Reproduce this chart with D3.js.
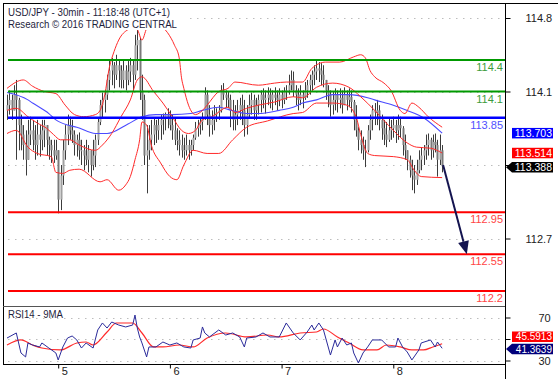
<!DOCTYPE html>
<html><head><meta charset="utf-8">
<script src="https://cdn.jsdelivr.net/npm/d3@7"></script>
<style>body{margin:0;background:#fff}svg{display:block;font-family:"Liberation Sans",Arial,sans-serif}</style>
</head><body><svg id="c" width="558" height="379"></svg>
<script>
// ---------- DATA ----------
const titleLines = ["USD/JPY - 30min - 11:18:48 (UTC+1)", "Research \u00a9 2016 TRADING CENTRAL"];
const dayLabels = ["5","6","7","8"];
const dayStartBar = [22,70,118,166];

const barOpen = [113.92,113.97,114.02,113.92,114.07,114.02,113.78,113.69,113.59,113.45,
113.69,113.73,113.64,113.59,113.69,113.64,113.73,113.78,113.64,113.59,
113.54,113.49,113.54,113.07,113.30,113.54,113.69,113.78,113.73,113.69,
113.59,113.64,113.54,113.54,113.49,113.45,113.54,113.40,113.49,113.64,
113.81,113.97,114.02,114.07,114.21,114.30,114.35,114.26,114.35,114.30,
114.21,114.30,114.21,114.29,114.35,114.26,114.54,114.59,114.11,114.02,
113.49,113.54,113.64,113.69,113.78,113.73,113.78,113.83,113.85,113.88,
113.85,113.78,113.73,113.64,113.64,113.59,113.54,113.54,113.59,113.54,
113.59,113.66,113.75,113.78,113.81,113.85,114.07,113.88,113.78,113.83,
113.88,113.90,113.92,114.11,114.07,114.04,114.02,113.92,113.83,113.88,
113.92,113.97,113.92,113.78,113.88,113.97,114.02,113.92,113.97,114.02,
114.07,114.02,114.04,114.07,114.02,114.07,114.04,114.02,114.07,114.02,
114.10,114.11,114.16,114.21,114.11,114.07,114.02,114.07,114.04,114.11,
114.16,114.21,114.26,114.29,114.32,114.30,114.26,114.21,114.11,114.07,
113.97,114.02,114.07,114.02,114.04,113.97,114.07,114.02,114.05,114.00,
113.83,113.73,113.64,113.59,113.54,113.54,113.73,113.83,113.92,113.90,
113.92,113.83,113.75,113.69,113.64,113.73,113.75,113.78,113.73,113.78,
113.75,113.59,113.54,113.45,113.35,113.30,113.26,113.35,113.45,113.49,
113.54,113.59,113.64,113.54,113.62,113.59,113.45,113.54];
const barHigh = [114.07,114.11,114.07,114.16,114.21,114.04,113.88,113.78,113.73,113.83,
113.86,113.83,113.78,113.83,113.78,113.83,113.83,113.78,113.67,113.64,
113.64,113.64,113.54,113.40,113.64,113.78,113.88,113.86,113.83,113.73,
113.69,113.71,113.64,113.59,113.64,113.59,113.54,113.64,113.69,113.85,
114.02,114.09,114.11,114.26,114.40,114.42,114.38,114.45,114.40,114.35,
114.40,114.35,114.40,114.42,114.40,114.64,114.69,114.61,114.26,114.07,
113.78,113.78,113.83,113.85,113.83,113.85,113.88,113.89,113.90,113.94,
113.92,113.88,113.85,113.75,113.73,113.69,113.66,113.69,113.64,113.64,
113.69,113.81,113.83,113.85,113.90,114.14,114.11,113.97,113.92,113.97,
113.94,113.97,114.16,114.18,114.11,114.10,114.07,114.02,113.97,114.02,
114.04,114.07,114.02,113.97,114.07,114.09,114.07,114.04,114.07,114.11,
114.13,114.11,114.14,114.13,114.11,114.14,114.11,114.13,114.11,114.14,
114.16,114.26,114.30,114.29,114.16,114.13,114.16,114.11,114.19,114.21,
114.26,114.30,114.35,114.40,114.38,114.37,114.35,114.21,114.16,114.11,
114.10,114.13,114.11,114.13,114.11,114.14,114.11,114.13,114.11,114.02,
113.97,113.76,113.73,113.67,113.64,113.78,113.88,113.97,113.99,114.02,
113.97,113.88,113.83,113.81,113.85,113.83,113.86,113.83,113.88,113.86,
113.77,113.69,113.54,113.49,113.45,113.40,113.45,113.54,113.57,113.59,
113.69,113.70,113.66,113.69,113.70,113.64,113.69,113.59];
const barLow = [113.83,113.88,113.83,113.92,113.45,113.54,113.54,113.45,113.30,113.45,
113.59,113.54,113.45,113.49,113.48,113.54,113.57,113.49,113.45,113.42,
113.42,113.45,112.94,112.97,113.21,113.45,113.59,113.64,113.61,113.49,
113.48,113.45,113.40,113.35,113.40,113.33,113.29,113.35,113.38,113.59,
113.78,113.85,113.90,114.02,114.11,114.16,114.13,114.21,114.14,114.13,
114.13,114.11,114.16,114.19,114.11,114.21,114.30,114.02,113.83,113.40,
113.13,113.45,113.54,113.59,113.61,113.64,113.64,113.69,113.73,113.75,
113.73,113.64,113.59,113.54,113.49,113.47,113.45,113.49,113.45,113.49,
113.54,113.64,113.67,113.69,113.73,113.83,113.78,113.67,113.69,113.73,
113.81,113.83,113.90,114.02,113.95,113.94,113.76,113.73,113.73,113.78,
113.83,113.78,113.67,113.69,113.85,113.88,113.83,113.83,113.88,113.90,
113.94,113.89,113.97,113.94,113.92,113.97,113.92,113.96,113.94,113.98,
114.02,114.07,114.11,114.05,113.97,113.92,113.97,113.94,114.02,114.04,
114.07,114.11,114.16,114.21,114.19,114.16,114.14,114.02,113.95,113.86,
113.88,113.92,113.90,113.94,113.89,113.97,113.92,113.95,113.90,113.73,
113.67,113.54,113.51,113.45,113.38,113.52,113.64,113.73,113.78,113.78,
113.73,113.64,113.59,113.57,113.62,113.64,113.66,113.61,113.64,113.66,
113.49,113.45,113.35,113.28,113.16,113.13,113.21,113.32,113.35,113.40,
113.45,113.49,113.45,113.47,113.52,113.29,113.40,113.33];
const barClose = [113.97,114.02,113.92,114.07,114.02,113.78,113.69,113.59,113.45,113.69,
113.73,113.64,113.59,113.69,113.64,113.73,113.78,113.64,113.59,113.54,
113.49,113.54,113.07,113.30,113.54,113.69,113.78,113.73,113.69,113.59,
113.64,113.54,113.54,113.49,113.45,113.54,113.40,113.49,113.64,113.81,
113.97,114.02,114.07,114.21,114.30,114.35,114.26,114.35,114.30,114.21,
114.30,114.21,114.29,114.35,114.26,114.54,114.59,114.11,114.02,113.49,
113.54,113.64,113.69,113.78,113.73,113.78,113.83,113.85,113.88,113.85,
113.78,113.73,113.64,113.64,113.59,113.54,113.54,113.59,113.54,113.59,
113.66,113.75,113.78,113.81,113.85,114.07,113.88,113.78,113.83,113.88,
113.90,113.92,114.11,114.07,114.04,114.02,113.92,113.83,113.88,113.92,
113.97,113.92,113.78,113.88,113.97,114.02,113.92,113.97,114.02,114.07,
114.02,114.04,114.07,114.02,114.07,114.04,114.02,114.07,114.02,114.10,
114.11,114.16,114.21,114.11,114.07,114.02,114.07,114.04,114.11,114.16,
114.21,114.26,114.29,114.32,114.30,114.26,114.21,114.11,114.07,113.97,
114.02,114.07,114.02,114.04,113.97,114.07,114.02,114.05,114.00,113.83,
113.73,113.64,113.59,113.54,113.54,113.73,113.83,113.92,113.90,113.92,
113.83,113.75,113.69,113.64,113.73,113.75,113.78,113.73,113.78,113.75,
113.59,113.54,113.45,113.35,113.30,113.26,113.35,113.45,113.49,113.54,
113.59,113.64,113.54,113.62,113.59,113.45,113.54,113.388];

const bbUpperBar = [0,7,11,16,21,25,29,33,38,40,42,44,46,48,52,54,56,58,60,63,67,69,72,74,75,76,78,81,84,86,91,95,98,108,115,120,127,131,137,143,149,152,154,156,158,162,165,169,171,174,177,181,187];
const bbUpper = [114.13,114.21,114.15,114.10,114.08,113.97,113.88,113.86,113.88,113.92,114.07,114.33,114.48,114.59,114.69,114.71,114.69,114.59,114.70,114.76,114.71,114.66,114.54,114.42,114.23,114.13,113.97,113.88,113.92,113.97,114.10,114.13,114.19,114.16,114.18,114.19,114.19,114.32,114.38,114.38,114.43,114.45,114.42,114.30,114.24,114.18,114.11,113.92,113.89,113.99,113.95,113.86,113.76];
const bbMidBar = [0,4,9,13,17,20,23,27,31,38,41,45,49,53,56,58,63,67,71,75,78,81,84,88,95,98,103,108,115,123,127,133,140,147,152,158,166,172,176,182,187];
const bbMid = [113.92,113.94,113.86,113.80,113.75,113.69,113.64,113.64,113.59,113.54,113.59,113.70,113.86,114.02,114.21,114.24,114.10,113.99,113.86,113.73,113.70,113.73,113.83,113.86,113.95,113.90,113.94,113.97,114.00,114.05,114.04,114.14,114.18,114.14,114.05,113.92,113.73,113.61,113.57,113.56,113.514];
const bbLowerBar = [0,4,9,13,19,21,24,27,31,40,43,48,51,53,55,57,58,60,62,66,70,73,76,80,86,91,97,103,112,123,127,133,140,146,150,152,155,158,166,172,175,178,187];
const bbLower = [113.70,113.73,113.57,113.51,113.48,113.33,113.32,113.35,113.36,113.24,113.26,113.16,113.21,113.29,113.45,113.64,113.81,113.78,113.59,113.42,113.29,113.26,113.40,113.54,113.51,113.51,113.64,113.76,113.82,113.89,113.90,113.99,113.99,113.97,113.86,113.69,113.51,113.49,113.48,113.45,113.35,113.29,113.28];
const maBar = [0,9,11,18,21,26,30,38,43,52,58,64,71,79,84,91,95,103,108,117,123,127,133,140,147,155,158,166,172,179,187];
const maVal = [114.09,114.02,113.99,113.89,113.83,113.78,113.76,113.70,113.70,113.79,113.86,113.88,113.88,113.89,113.92,113.95,113.93,113.89,113.89,113.92,113.95,113.99,114.02,114.07,114.07,114.04,114.02,113.97,113.92,113.85,113.703];

const rsiBar = [0,4,5,6,8,9,11,14,15,18,21,22,24,26,28,30,32,34,37,39,41,43,45,48,51,54,55,56,57,58,60,61,64,67,70,73,76,79,80,83,84,85,87,91,94,97,100,102,103,107,110,113,117,120,123,126,129,131,132,134,136,139,141,142,144,146,148,149,151,153,155,157,161,164,167,168,170,172,174,177,178,182,184,185,187];
const rsiVal = [50.9,55.6,46.3,37.0,33.3,46.3,44.4,42.6,46.3,41.6,37.0,30.5,42.6,50.9,52.8,49.1,41.6,46.3,41.6,58.4,64.9,60.2,65.8,63.0,61.2,63.0,72.3,60.2,51.9,46.3,33.3,42.6,42.6,47.2,44.4,46.3,42.6,41.6,49.1,50.9,61.2,55.6,51.9,58.4,53.7,55.6,51.9,42.6,50.9,51.9,55.6,51.9,51.9,64.9,55.6,49.1,56.5,63.0,58.4,64.9,58.4,35.1,49.1,42.6,50.9,44.4,46.3,37.0,27.7,37.0,42.6,49.1,49.1,42.6,42.6,50.9,42.6,37.9,30.5,39.8,46.3,49.1,42.6,47.2,41.3639];
const rsiMaBar = [0,6,11,15,23,30,34,37,43,47,54,58,63,67,74,80,86,94,103,112,117,126,133,136,142,147,153,159,163,169,174,179,183,187];
const rsiMa = [44.4,49.1,44.4,41.6,39.8,46.3,47.2,44.4,56.5,64.9,64.9,55.6,42.6,42.6,44.4,42.6,50.9,55.6,51.9,53.7,51.9,55.6,56.5,59.3,51.9,46.3,39.8,39.8,44.4,42.6,39.8,39.8,42.6,45.5913];

const levelPrices = [114.4, 114.1, 113.85, 112.95, 112.55, 112.2];
const levelKinds = ["res","res","pivot","sup","sup","sup"];
const priceTicks = [114.8, 114.1, 113.4, 112.7];
const priceTickLabels = ["114.8", "114.1", "", "112.7"];
const rsiTicks = [70, 50, 30];
const rsiTickLabels = ["70", "", "30"];
const arrowBars = [187.4, 197.6];
const arrowPrices = [113.40, 112.55];

// ---------- SCALES ----------
const svg = d3.select("#c");
const PL = 3, PR = 505, PT = 3, MB = 306.5, RB = 364.5;
const x = d3.scaleLinear().domain([0, 187]).range([7, 7 + 187 * 2.327]);
const y = d3.scaleLinear().domain([112.7, 114.8]).range([238.5, 18]);
const yr = d3.scaleLinear().domain([30, 70]).range([360.5, 317.5]);
const kindColor = {res:"#009900", pivot:"#0000ff", sup:"#ff0000"};
const kindText = {res:"#3c9c3c", pivot:"#5050ff", sup:"#ff4545"};

const defs = svg.append("defs");
defs.append("clipPath").attr("id","cm").append("rect").attr("x",PL+1).attr("y",PT+1).attr("width",PR-PL-1).attr("height",MB-PT-1);
defs.append("clipPath").attr("id","cr").append("rect").attr("x",PL+1).attr("y",MB+1).attr("width",PR-PL-1).attr("height",RB-MB-1);

// ---------- MAIN PANEL ----------
const gm = svg.append("g").attr("clip-path","url(#cm)");
gm.selectAll("line.grid").data(priceTicks).join("line")
  .attr("x1",8).attr("x2",PR).attr("y1",d=>Math.round(y(d))+0.5).attr("y2",d=>Math.round(y(d))+0.5)
  .attr("stroke","#bdbdbd").attr("stroke-dasharray","1.5,5.5");

// bars
const bars = gm.append("g");
barClose.forEach((c,i)=>{
  const xc = Math.round(x(i)) + 0.5;
  bars.append("line").attr("x1",xc).attr("x2",xc).attr("y1",y(barHigh[i])).attr("y2",y(barLow[i]))
    .attr("stroke","#3c3c3c").attr("stroke-width",1);
  const o = barOpen[i];
  const t = y(Math.max(o,c)), b = y(Math.min(o,c));
  bars.append("rect").attr("x",xc-1).attr("y",t).attr("width",2).attr("height",Math.max(1,b-t))
    .attr("fill", c >= o ? "#a0a0a0" : "#7a7a7a");
});

const lineP = d3.line().x(d=>x(d[0])).y(d=>y(d[1])).curve(d3.curveMonotoneX);
const zip = (a,b)=>a.map((v,i)=>[v,b[i]]);
gm.append("path").attr("d",lineP(zip(maBar,maVal))).attr("fill","none").attr("stroke","#4b4bff").attr("stroke-width",1.1);
[[bbUpperBar,bbUpper],[bbMidBar,bbMid],[bbLowerBar,bbLower]].forEach(([b,v])=>{
  gm.append("path").attr("d",lineP(zip(b,v))).attr("fill","none").attr("stroke","#ff2a2a").attr("stroke-width",1);
});

// level lines
levelPrices.forEach((p,i)=>{
  const k = levelKinds[i];
  const yy = y(p);
  gm.append("line").attr("x1",8).attr("x2",PR).attr("y1",yy).attr("y2",yy)
    .attr("stroke",kindColor[k]).attr("stroke-width",k==="pivot"?2.5:2);
  gm.append("text").attr("x",503).attr("y",yy+11).attr("text-anchor","end")
    .attr("font-size",11).attr("fill",kindText[k]).text(String(p));
});

// arrow
const ax1 = x(arrowBars[0]), ay1 = y(arrowPrices[0]), ax2 = x(arrowBars[1]), ay2 = y(arrowPrices[1]);
const ang = Math.atan2(ay2-ay1, ax2-ax1);
const hl = 13, hw = 5.5;
const bx = ax2 - hl*Math.cos(ang), by = ay2 - hl*Math.sin(ang);
gm.append("line").attr("x1",ax1).attr("y1",ay1).attr("x2",bx).attr("y2",by).attr("stroke","#141450").attr("stroke-width",2);
gm.append("path").attr("d",`M${ax2},${ay2}L${bx+hw*Math.sin(ang)},${by-hw*Math.cos(ang)}L${bx-hw*Math.sin(ang)},${by+hw*Math.cos(ang)}Z`).attr("fill","#141450");

// title
svg.append("rect").attr("x",PL+1).attr("y",PT+1).attr("width",184).attr("height",26).attr("fill","#fff");
const titleLen = [162, 169];
svg.append("g").selectAll("text").data(titleLines).join("text")
  .attr("x",8).attr("y",(d,i)=>16+i*11.5).attr("font-size",10.5).attr("fill","#1e1e3c")
  .attr("textLength",(d,i)=>titleLen[i]).attr("lengthAdjust","spacingAndGlyphs").text(d=>d);

// ---------- RSI PANEL ----------
const gr = svg.append("g").attr("clip-path","url(#cr)");
gr.selectAll("line").data(rsiTicks).join("line")
  .attr("x1",8).attr("x2",PR).attr("y1",d=>Math.round(yr(d))+0.5).attr("y2",d=>Math.round(yr(d))+0.5)
  .attr("stroke","#bdbdbd").attr("stroke-dasharray","1.5,5.5");
gr.append("path").attr("d",d3.line().x(d=>x(d[0])).y(d=>yr(d[1])).curve(d3.curveMonotoneX)(zip(rsiMaBar,rsiMa))).attr("fill","none").attr("stroke","#ff2a2a").attr("stroke-width",1.2);
gr.append("path").attr("d",d3.line().x(d=>x(d[0])).y(d=>yr(d[1]))(zip(rsiBar,rsiVal))).attr("fill","none").attr("stroke","#2b2b9a").attr("stroke-width",1);
svg.append("text").attr("x",8).attr("y",318).attr("font-size",10.5).attr("fill","#1e1e3c")
  .attr("textLength",55).attr("lengthAdjust","spacingAndGlyphs").text("RSI14 - 9MA");

// ---------- FRAME ----------
svg.append("line").attr("x1",PL).attr("x2",558).attr("y1",PT+0.5).attr("y2",PT+0.5).attr("stroke","#000");
svg.append("line").attr("x1",PL+0.5).attr("x2",PL+0.5).attr("y1",PT).attr("y2",RB).attr("stroke","#000");
svg.append("line").attr("x1",PL).attr("x2",PR).attr("y1",MB).attr("y2",MB).attr("stroke","#555");
svg.append("line").attr("x1",PL).attr("x2",PR).attr("y1",RB).attr("y2",RB).attr("stroke","#000");
svg.append("line").attr("x1",PR+0.5).attr("x2",PR+0.5).attr("y1",PT).attr("y2",379).attr("stroke","#000");

// ---------- AXES ----------
const ayAxis = svg.append("g").attr("transform",`translate(${PR+0.5},0)`)
  .call(d3.axisRight(y).tickValues(priceTicks).tickSize(5).tickPadding(15).tickFormat((d,i)=>priceTickLabels[i]));
ayAxis.select(".domain").remove();
ayAxis.selectAll("text").attr("font-size",11).attr("fill","#222").attr("font-family","Liberation Sans, Arial, sans-serif");
ayAxis.selectAll("line").attr("stroke","#000");

const arAxis = svg.append("g").attr("transform",`translate(${PR+0.5},0)`)
  .call(d3.axisRight(yr).tickValues(rsiTicks).tickSize(5).tickPadding(28).tickFormat((d,i)=>rsiTickLabels[i]));
arAxis.select(".domain").remove();
arAxis.selectAll("text").attr("font-size",11).attr("fill","#222").attr("font-family","Liberation Sans, Arial, sans-serif");

const axX = svg.append("g").attr("transform",`translate(0,${RB})`)
  .call(d3.axisBottom(x).tickValues(dayStartBar).tickSize(4).tickFormat((d,i)=>dayLabels[i]));
axX.select(".domain").remove();
axX.selectAll(".tick line").attr("stroke","#000");
axX.selectAll("text").attr("text-anchor","start").attr("dx",3).attr("y",3).attr("dy","0.71em")
  .attr("font-size",11).attr("fill","#222").attr("font-family","Liberation Sans, Arial, sans-serif");

// ---------- VALUE BOXES ----------
function valueBox(v, yy, fill, arrow, fmt, fs){
  const g = svg.append("g");
  const h = 10.5, x0 = 512, x1 = 553;
  if (arrow) {
    g.append("path").attr("d",`M506,${yy}L${x0},${yy-h/2}L${x1},${yy-h/2}L${x1},${yy+h/2}L${x0},${yy+h/2}Z`).attr("fill",fill);
  } else {
    g.append("rect").attr("x",x0).attr("y",yy-h/2).attr("width",x1-x0).attr("height",h).attr("fill",fill);
  }
  g.append("text").attr("x",x1-1).attr("y",yy+3.6).attr("text-anchor","end").attr("font-size",fs).attr("fill","#fff").text(fmt(v));
}
const f3 = d3.format(".3f"), f4 = d3.format(".4f");
valueBox(maVal[maVal.length-1], y(maVal[maVal.length-1]), "#0000ff", false, f3, 10.5);
valueBox(bbMid[bbMid.length-1], y(bbMid[bbMid.length-1]), "#ff0000", false, f3, 10.5);
valueBox(barClose[barClose.length-1], y(barClose[barClose.length-1])+1, "#000000", true, f3, 10.5);
valueBox(rsiMa[rsiMa.length-1], yr(rsiMa[rsiMa.length-1])-7, "#ff0000", false, f4, 10);
valueBox(rsiVal[rsiVal.length-1], yr(rsiVal[rsiVal.length-1])+0.7, "#00007a", true, f4, 10);
</script></body></html>
